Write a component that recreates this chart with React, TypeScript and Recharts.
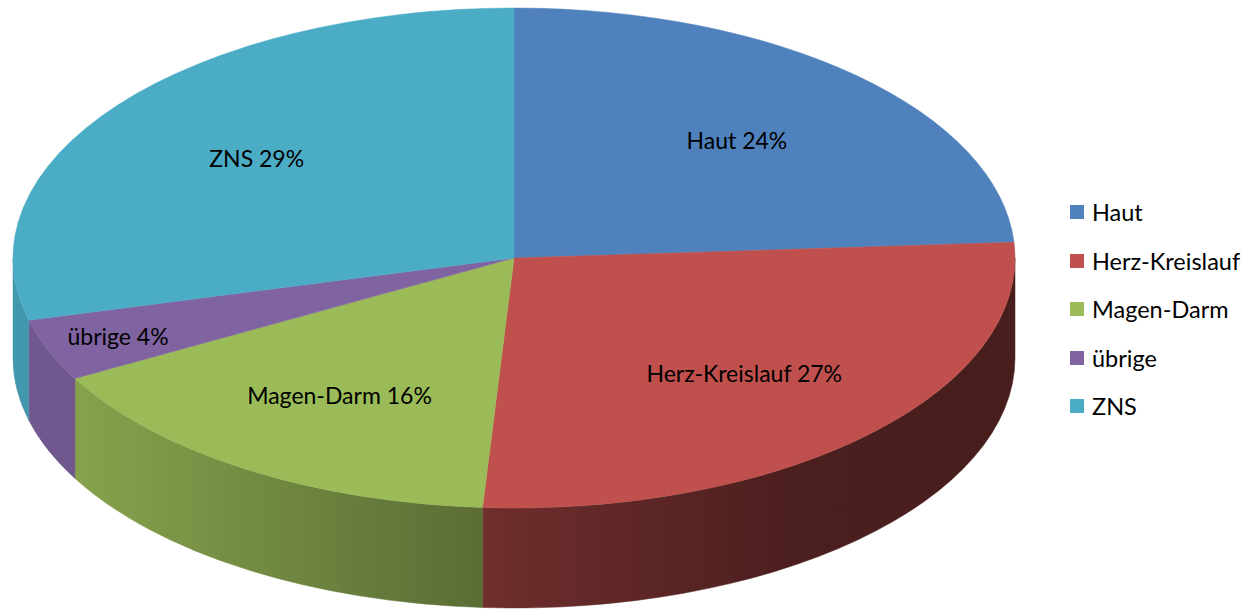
import { PieChart, Pie, Legend } from 'recharts';

const categories = ['Haut', 'Herz-Kreislauf', 'Magen-Darm', 'übrige', 'ZNS'];
const shares = [24, 27, 16, 4, 29];
const colors = ['#4F81BD', '#C0504D', '#9BBB59', '#8064A2', '#4BACC6'];

const chartData = categories.map((name, i) => ({ name, value: shares[i], fill: colors[i] }));

const FONT = 'Lato, "Open Sans", sans-serif';
const TILT = 0.499; // vertical squash of the pie disc
const DEPTH = 100;
const RAD = Math.PI / 180;

// shading of the rim, left to right
const rimStops: [number, number][] = [
  [0, 0.88],
  [0.06, 0.87],
  [0.47, 0.58],
  [0.78, 0.39],
  [1, 0.37],
];

function shade(hex: string, f: number) {
  const n = parseInt(hex.slice(1), 16);
  const r = Math.round(((n >> 16) & 255) * f);
  const g = Math.round(((n >> 8) & 255) * f);
  const b = Math.round((n & 255) * f);
  return `rgb(${r},${g},${b})`;
}

function renderSlice(props: any) {
  const { cx, cy, outerRadius, startAngle, endAngle, fill, index } = props;
  const rx = outerRadius;
  const ry = outerRadius * TILT;
  const pt = (a: number, dy = 0) => [cx + rx * Math.cos(a * RAD), cy - ry * Math.sin(a * RAD) + dy];
  const hi = Math.max(startAngle, endAngle);
  const lo = Math.min(startAngle, endAngle);
  const large = hi - lo > 180 ? 1 : 0;
  const [sx, sy] = pt(hi);
  const [ex, ey] = pt(lo);
  const top = `M${cx},${cy} L${sx},${sy} A${rx},${ry} 0 ${large} 1 ${ex},${ey} Z`;

  // front rim is visible where the angle is between -180 and 0
  const a1 = Math.min(hi, 0);
  const a0 = Math.max(lo, -180);
  let side = '';
  if (a0 < a1) {
    const [p1x, p1y] = pt(a1);
    const [p0x, p0y] = pt(a0);
    side = `M${p1x},${p1y} A${rx},${ry} 0 0 1 ${p0x},${p0y} L${p0x},${p0y + DEPTH} A${rx},${ry} 0 0 0 ${p1x},${p1y + DEPTH} Z`;
  }
  const gid = `rim-${index}`;
  return (
    <g>
      <defs>
        <linearGradient id={gid} gradientUnits="userSpaceOnUse" x1={cx - rx} y1={0} x2={cx + rx} y2={0}>
          {rimStops.map(([o, f]) => (
            <stop key={o} offset={o} stopColor={shade(fill, f)} />
          ))}
        </linearGradient>
      </defs>
      {side && <path d={side} fill={`url(#${gid})`} stroke={`url(#${gid})`} strokeWidth={0.5} />}
      <path d={top} fill={fill} stroke={fill} strokeWidth={0.5} />
    </g>
  );
}

function renderLabel(props: any) {
  const { cx, cy, outerRadius, midAngle, percent, name } = props;
  const k = percent < 0.06 ? 0.85 : 0.65;
  const x = cx + outerRadius * k * Math.cos(midAngle * RAD);
  const y = cy - outerRadius * TILT * k * Math.sin(midAngle * RAD);
  return (
    <text x={x} y={y} textAnchor="middle" dominantBaseline="central" fill="#000" fontFamily={FONT} fontSize={23}>
      {`${name} ${Math.round(percent * 100)}%`}
    </text>
  );
}

function renderLegend(props: any) {
  const items = [...(props.payload || [])].sort(
    (a: any, b: any) => categories.indexOf(a.value) - categories.indexOf(b.value),
  );
  return (
    <ul style={{ listStyle: 'none', margin: 0, padding: 0 }}>
      {items.map((entry: any) => (
        <li
          key={entry.value}
          style={{ display: 'flex', alignItems: 'center', height: 48.5, fontFamily: FONT, fontSize: 23.5, color: '#000' }}
        >
          <span style={{ display: 'inline-block', width: 14, height: 14, background: entry.color, marginRight: 8 }} />
          {entry.value}
        </li>
      ))}
    </ul>
  );
}

export default function App() {
  return (
    <div style={{ position: 'absolute', left: 0, top: 0, width: 1248, height: 610, background: '#fff' }}>
      <PieChart width={1248} height={610} margin={{ top: 0, right: 0, bottom: 0, left: 0 }}>
        <Pie
          data={chartData}
          dataKey="value"
          nameKey="name"
          cx={514}
          cy={258}
          outerRadius={501}
          startAngle={90}
          endAngle={-270}
          shape={renderSlice}
          activeShape={renderSlice}
          label={renderLabel}
          labelLine={false}
          isAnimationActive={false}
        />
        <Legend
          content={renderLegend}
          wrapperStyle={{ position: 'absolute', left: 1070, top: 188, width: 178 }}
        />
      </PieChart>
    </div>
  );
}
